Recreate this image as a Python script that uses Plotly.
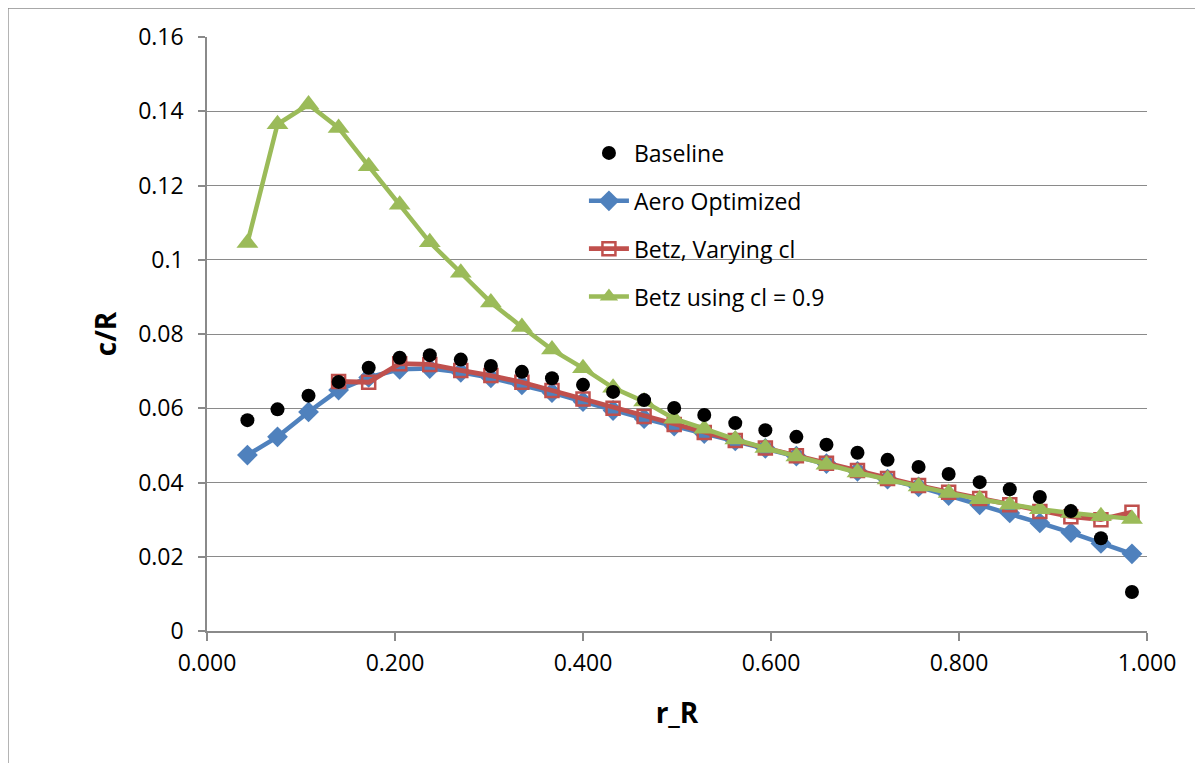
import plotly.graph_objects as go

# r/R stations
r_R = [0.043, 0.075, 0.108, 0.140, 0.172, 0.205, 0.237, 0.270, 0.302, 0.335,
       0.367, 0.400, 0.432, 0.465, 0.497, 0.529, 0.562, 0.594, 0.627, 0.659,
       0.692, 0.724, 0.757, 0.789, 0.822, 0.854, 0.886, 0.919, 0.951, 0.984]

baseline = [0.0568, 0.0597, 0.0634, 0.0671, 0.0709, 0.0736, 0.0743, 0.0731, 0.0714, 0.0698,
            0.0681, 0.0663, 0.0644, 0.0622, 0.0601, 0.0582, 0.0560, 0.0541, 0.0523, 0.0502,
            0.0480, 0.0461, 0.0442, 0.0423, 0.0401, 0.0382, 0.0361, 0.0323, 0.0250, 0.0105]

aero_optimized = [0.0474, 0.0523, 0.0590, 0.0649, 0.0683, 0.0705, 0.0707, 0.0697, 0.0682, 0.0663,
                  0.0642, 0.0618, 0.0594, 0.0572, 0.0552, 0.0532, 0.0512, 0.0492, 0.0471, 0.0451,
                  0.0430, 0.0409, 0.0388, 0.0365, 0.0340, 0.0318, 0.0291, 0.0265, 0.0236, 0.0208]

r_R_betz_var = r_R[3:]
betz_varying = [0.0672, 0.0670, 0.0720, 0.0718, 0.0702, 0.0688, 0.0670,
                0.0648, 0.0625, 0.0600, 0.0578, 0.0556, 0.0535, 0.0513, 0.0493, 0.0472, 0.0452,
                0.0432, 0.0411, 0.0392, 0.0374, 0.0357, 0.0340, 0.0322, 0.0308, 0.0300, 0.0320]

betz_cl09 = [0.1045, 0.1365, 0.1418, 0.1355, 0.1252, 0.1148, 0.1047, 0.0965, 0.0885, 0.0819,
             0.0758, 0.0708, 0.0655, 0.0618, 0.0572, 0.0545, 0.0516, 0.0493, 0.0470, 0.0448,
             0.0427, 0.0408, 0.0389, 0.0372, 0.0355, 0.0340, 0.0328, 0.0318, 0.0309, 0.0302]

x_ticks = [0.0, 0.2, 0.4, 0.6, 0.8, 1.0]

FONT = "Open Sans"
GRID = "#8a8a8a"

fig = go.Figure()

fig.add_trace(go.Scatter(
    x=r_R, y=aero_optimized, name="Aero Optimized", mode="lines+markers",
    line=dict(color="#4F81BD", width=4.5),
    marker=dict(symbol="diamond", size=16, color="#4F81BD"),
    legendrank=2, legendgroup="b"))

fig.add_trace(go.Scatter(
    x=r_R_betz_var, y=betz_varying, name="Betz, Varying cl", mode="lines+markers",
    line=dict(color="#C0504D", width=4.8),
    marker=dict(symbol="square-open", size=13, color="#C0504D", line=dict(width=2.5, color="#C0504D")),
    legendrank=3, legendgroup="c"))

fig.add_trace(go.Scatter(
    x=r_R, y=betz_cl09, name="Betz using cl = 0.9", mode="lines+markers",
    line=dict(color="#9BBB59", width=4.5),
    marker=dict(symbol="triangle-up", size=19, color="#9BBB59"),
    legendrank=4, legendgroup="d"))

fig.add_trace(go.Scatter(
    x=r_R, y=baseline, name="Baseline", mode="markers",
    marker=dict(symbol="circle", size=14, color="black"),
    legendrank=1, legendgroup="a"))

# page body adds an 8px offset, so the figure is sized/margined to compensate
fig.update_layout(
    width=1195, height=755,
    margin=dict(l=199, r=56, t=29, b=132),
    paper_bgcolor="white", plot_bgcolor="white",
    font=dict(family=FONT, size=23, color="black"),
    showlegend=True,
    legend=dict(x=0.401, y=0.841, xanchor="left", yanchor="top",
                bgcolor="rgba(0,0,0,0)", font=dict(family=FONT, size=23),
                traceorder="grouped", tracegroupgap=15, itemwidth=40),
    shapes=[dict(type="rect", xref="paper", yref="paper",
                 x0=-0.2117, x1=1.3, y0=-0.5, y1=1.0488,
                 line=dict(color="#8c8c8c", width=1.3), fillcolor="rgba(0,0,0,0)",
                 layer="below")],
)

fig.update_xaxes(
    range=[0, 1], tickvals=x_ticks, tickformat=".3f",
    showgrid=False, zeroline=False,
    showline=True, linecolor=GRID, linewidth=1.5,
    ticks="outside", ticklen=8, tickcolor=GRID, tickwidth=1.5,
    ticklabelstandoff=3,
    title=dict(text="<b>r_R</b>", font=dict(family=FONT, size=28), standoff=26),
)

fig.update_yaxes(
    range=[0, 0.16], dtick=0.02,
    showgrid=True, gridcolor=GRID, gridwidth=1.3, zeroline=False,
    showline=True, linecolor=GRID, linewidth=1.5,
    ticks="outside", ticklen=7, tickcolor=GRID, tickwidth=1.5,
    ticklabelstandoff=10,
    title=dict(text="<b>c/R</b>", font=dict(family=FONT, size=28), standoff=13),
)

fig.write_html("out.html")
